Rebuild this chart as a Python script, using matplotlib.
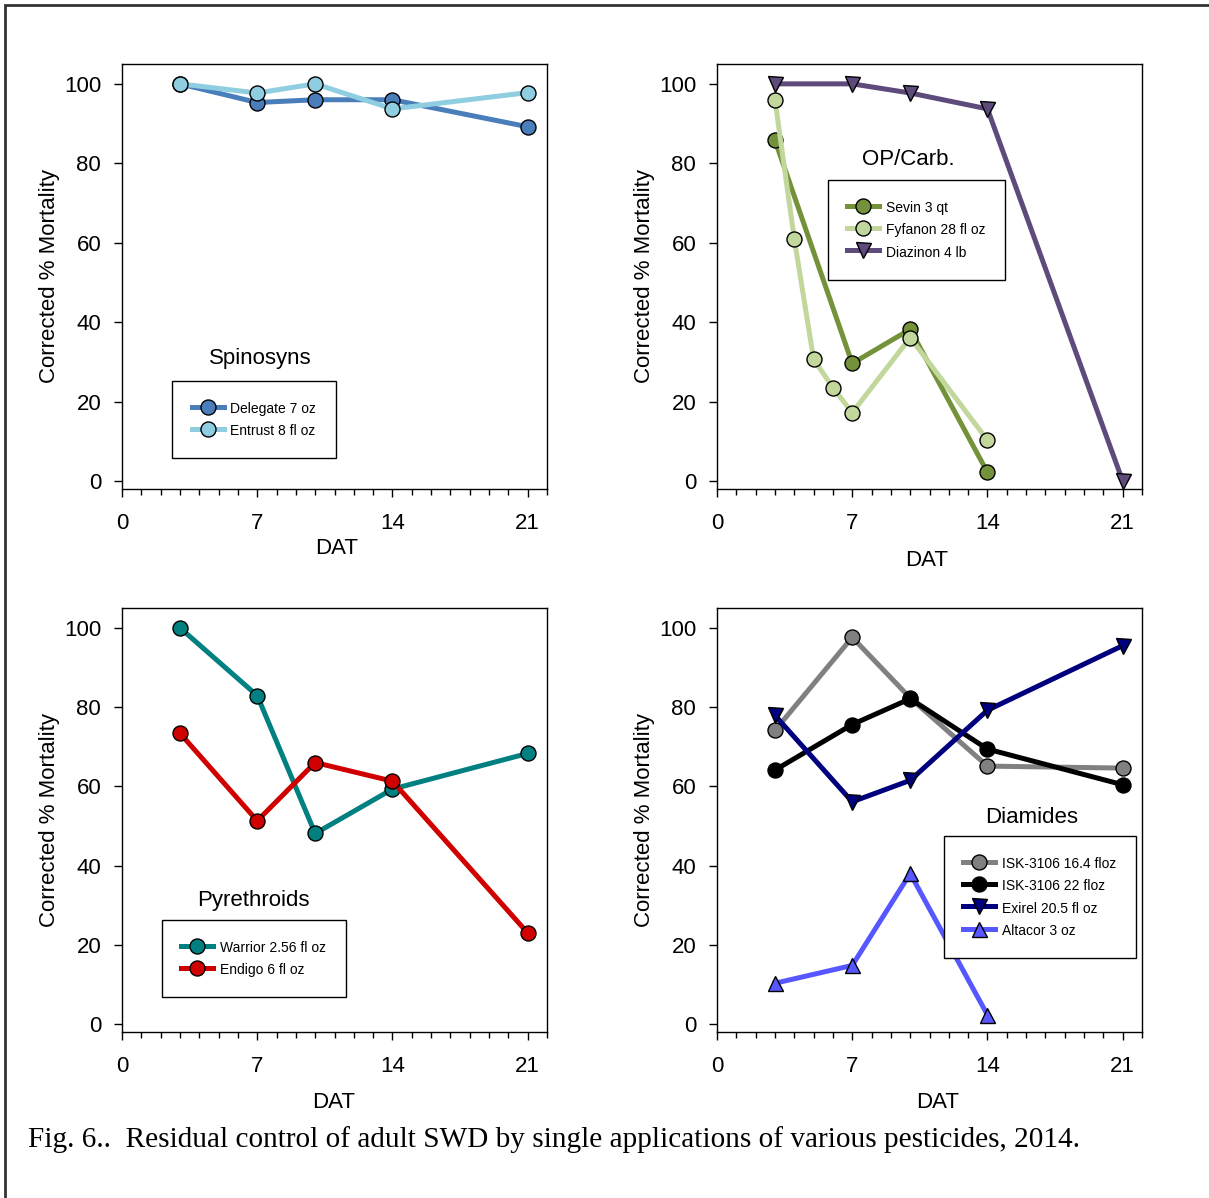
import matplotlib
matplotlib.use('Agg')
import matplotlib.pyplot as plt
from matplotlib.patches import Rectangle
from matplotlib.ticker import MultipleLocator

plt.rcParams['font.family'] = ['Liberation Sans', 'DejaVu Sans']

# data (DAT = days after treatment)
spin_days = [3, 7, 10, 14, 21]
delegate = [100, 95.3, 96.0, 96.0, 89.2]
entrust = [100, 97.7, 100, 93.7, 97.8]

sevin_days = [3, 7, 10, 14]
sevin = [85.8, 29.6, 38.2, 2.2]
fyfanon_days = [3, 4, 5, 6, 7, 10, 14]
fyfanon = [96.0, 61.0, 30.7, 23.5, 17.2, 36.1, 10.3]
diazinon_days = [3, 7, 10, 14, 21]
diazinon = [100, 100, 97.7, 93.7, 0]

pyr_days = [3, 7, 10, 14, 21]
warrior = [100, 82.9, 48.1, 59.3, 68.3]
endigo = [73.4, 51.3, 66.0, 61.3, 23.0]

dia_days = [3, 7, 10, 14, 21]
isk164 = [74.1, 97.6, 82.3, 65.1, 64.6]
isk22 = [64.1, 75.6, 82.1, 69.4, 60.4]
exirel = [77.9, 56.1, 61.5, 79.2, 95.5]
altacor_days = [3, 7, 10, 14]
altacor = [10.3, 14.8, 38.0, 2.3]

W, H = 1209, 1198
fig = plt.figure(figsize=(W / 100, H / 100), dpi=100)

def px_axes(l, t, r, b):
    return fig.add_axes([l / W, 1 - b / H, (r - l) / W, (b - t) / H])

ax1 = px_axes(122, 64, 547, 489)
ax2 = px_axes(717, 64, 1142, 489)
ax3 = px_axes(122, 608, 547, 1032)
ax4 = px_axes(717, 608, 1142, 1032)

lw = 3.6
ms = 10.8

def series(ax, x, y, color, marker, label):
    ax.plot(x, y, color=color, lw=lw, marker=marker, ms=ms,
            mfc=color, mec='black', mew=1.0, label=label)

series(ax1, spin_days, delegate, '#4a7ebb', 'o', 'Delegate 7 oz')
series(ax1, spin_days, entrust, '#8fcde0', 'o', 'Entrust 8 fl oz')

series(ax2, sevin_days, sevin, '#74923a', 'o', 'Sevin 3 qt')
series(ax2, fyfanon_days, fyfanon, '#c1d79c', 'o', 'Fyfanon 28 fl oz')
series(ax2, diazinon_days, diazinon, '#5f4a7c', 'v', 'Diazinon 4 lb')

series(ax3, pyr_days, warrior, '#008080', 'o', 'Warrior 2.56 fl oz')
series(ax3, pyr_days, endigo, '#d00000', 'o', 'Endigo 6 fl oz')

series(ax4, dia_days, isk164, '#808080', 'o', 'ISK-3106 16.4 floz')
series(ax4, dia_days, isk22, '#000000', 'o', 'ISK-3106 22 floz')
series(ax4, dia_days, exirel, '#00007f', 'v', 'Exirel 20.5 fl oz')
series(ax4, altacor_days, altacor, '#5757ff', '^', 'Altacor 3 oz')

titles = [(ax1, 'Spinosyns', 0.325, 0.306, 0.118, 0.254),
          (ax2, 'OP/Carb.', 0.449, 0.776, 0.261, 0.727),
          (ax3, 'Pyrethroids', 0.308, 0.311, 0.094, 0.264),
          (ax4, 'Diamides', 0.741, 0.507, 0.534, 0.462)]
xlab_pos = [(0.506, -0.139), (0.494, -0.169), (0.499, -0.167), (0.52, -0.167)]

for (ax, title, tx, ty, lx, ly), (dx, dy) in zip(titles, xlab_pos):
    ax.set_xlim(0, 22)
    ax.set_ylim(-2, 105)
    ax.set_xticks([0, 7, 14, 21])
    ax.xaxis.set_minor_locator(MultipleLocator(1))
    ax.set_yticks([0, 20, 40, 60, 80, 100])
    ax.tick_params(axis='both', which='major', direction='out', length=6,
                   width=1, labelsize=16, color='black')
    ax.tick_params(axis='x', which='major', pad=11)
    ax.tick_params(axis='y', which='major', pad=9)
    ax.tick_params(axis='x', which='minor', direction='out', length=4, width=1)
    for s in ax.spines.values():
        s.set_linewidth(1.0)
    ax.set_ylabel('Corrected % Mortality', fontsize=16, va='center')
    ax.yaxis.set_label_coords(-0.17, 0.5)
    ax.set_xlabel('DAT', fontsize=16, va='center')
    ax.xaxis.set_label_coords(dx, dy)
    ax.text(tx, ty, title, transform=ax.transAxes, fontsize=16,
            ha='center', va='center')
    leg = ax.legend(loc='upper left', bbox_to_anchor=(lx, ly), fontsize=10,
                    frameon=True, fancybox=False, edgecolor='black',
                    framealpha=1, handlelength=2.3, handleheight=1.4,
                    handletextpad=0.5, labelspacing=0.45, borderpad=1.4,
                    borderaxespad=0)
    leg.get_frame().set_linewidth(1.0)

# outer border (right and bottom run off the page)
fig.add_artist(Rectangle((5 / W, -0.1), 1.2, 1.1 - 4.5 / H,
                         transform=fig.transFigure, fill=False,
                         edgecolor='#333333', lw=2))

fig.text(28 / W, 1 - 1140 / H,
         'Fig. 6..  Residual control of adult SWD by single applications of various pesticides, 2014.',
         fontsize=21.1, family='Liberation Serif', ha='left', va='center')

fig.savefig('out.png', dpi=100)
